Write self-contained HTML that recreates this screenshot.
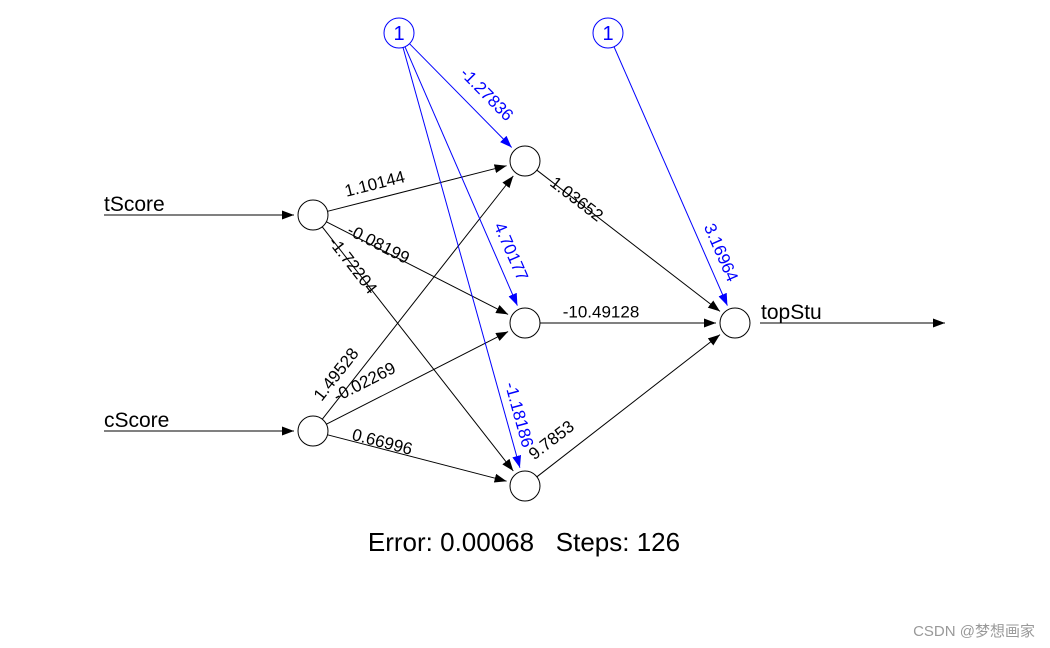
<!DOCTYPE html>
<html><head><meta charset="utf-8"><style>
html,body{margin:0;padding:0;background:#fff;}
svg{display:block;font-family:"Liberation Sans",Arial,sans-serif;}
</style></head><body>
<svg width="1050" height="648" viewBox="0 0 1050 648" xmlns="http://www.w3.org/2000/svg">
<defs>
<marker id="ak" markerUnits="userSpaceOnUse" markerWidth="14" markerHeight="10" refX="12" refY="4.5" orient="auto"><path d="M0,0 L12,4.5 L0,9 z" fill="#000"/></marker>
<marker id="ab" markerUnits="userSpaceOnUse" markerWidth="14" markerHeight="10" refX="12" refY="4.5" orient="auto"><path d="M0,0 L12,4.5 L0,9 z" fill="#00f"/></marker>
</defs>
<g stroke="#000" stroke-width="1" marker-end="url(#ak)">
<line x1="104" y1="215" x2="294" y2="215"/>
<line x1="104" y1="431" x2="294" y2="431"/>
<line x1="760" y1="323" x2="945" y2="323"/>
<line x1="327.5" y1="211.3" x2="506.6" y2="165.7"/>
<line x1="326.4" y1="221.8" x2="508.1" y2="314.4"/>
<line x1="322.2" y1="226.8" x2="513.3" y2="471"/>
<line x1="322.3" y1="419.2" x2="513.3" y2="175.9"/>
<line x1="326.4" y1="424.2" x2="508.1" y2="331.6"/>
<line x1="327.5" y1="434.8" x2="506.6" y2="481.2"/>
<line x1="536.9" y1="170.2" x2="720" y2="311.4"/>
<line x1="540" y1="323" x2="716" y2="323"/>
<line x1="536.9" y1="476.8" x2="720" y2="334.6"/>
</g>
<g stroke="#00f" stroke-width="1" marker-end="url(#ab)">
<line x1="409.5" y1="43.7" x2="511.7" y2="147.5"/>
<line x1="405" y1="46.8" x2="517.4" y2="305.6"/>
<line x1="403" y1="47.4" x2="519.9" y2="467.7"/>
<line x1="614" y1="46.7" x2="727.4" y2="305.6"/>
</g>
<g fill="#fff" stroke="#000">
<circle cx="313" cy="215" r="15"/><circle cx="313" cy="431" r="15"/>
<circle cx="525" cy="161" r="15"/><circle cx="525" cy="323" r="15"/><circle cx="525" cy="486" r="15"/>
<circle cx="735" cy="323" r="15"/>
</g>
<g fill="#fff" stroke="#00f"><circle cx="399" cy="33" r="15"/><circle cx="608" cy="33" r="15"/></g>
<g fill="#00f" font-size="20" text-anchor="middle"><text x="399" y="40">1</text><text x="608" y="40">1</text></g>
<g font-size="21" fill="#000"><text x="104" y="211">tScore</text><text x="104" y="427">cScore</text><text x="761" y="319">topStu</text></g>
<g font-size="17" fill="#000" text-anchor="middle" dominant-baseline="middle">
<text transform="translate(375,185) rotate(-14.3)">1.10144</text>
<text transform="translate(378,245) rotate(27)">-0.08199</text>
<text transform="translate(352,266) rotate(52)">-1.72204</text>
<text transform="translate(337,375) rotate(-51.9)">1.49528</text>
<text transform="translate(365,383) rotate(-27)">-0.02269</text>
<text transform="translate(382,443) rotate(14.5)">0.66996</text>
<text transform="translate(576,200) rotate(37.6)">1.03652</text>
<text transform="translate(601,313)">-10.49128</text>
<text transform="translate(552,441) rotate(-37.8)">9.7853</text>
</g>
<g font-size="17" fill="#00f" text-anchor="middle" dominant-baseline="middle">
<text transform="translate(486,95) rotate(45.4)">-1.27836</text>
<text transform="translate(510,252) rotate(66.5)">4.70177</text>
<text transform="translate(518,415) rotate(74.5)">-1.18186</text>
<text transform="translate(720,253) rotate(66.4)">3.16964</text>
</g>
<text x="524" y="551" font-size="26" text-anchor="middle" fill="#000" xml:space="preserve">Error: 0.00068   Steps: 126</text>
<text x="1035" y="636" font-size="15" text-anchor="end" fill="#999" font-family="'Liberation Sans','Noto Sans CJK SC',sans-serif">CSDN @梦想画家</text>
</svg>
</body></html>
